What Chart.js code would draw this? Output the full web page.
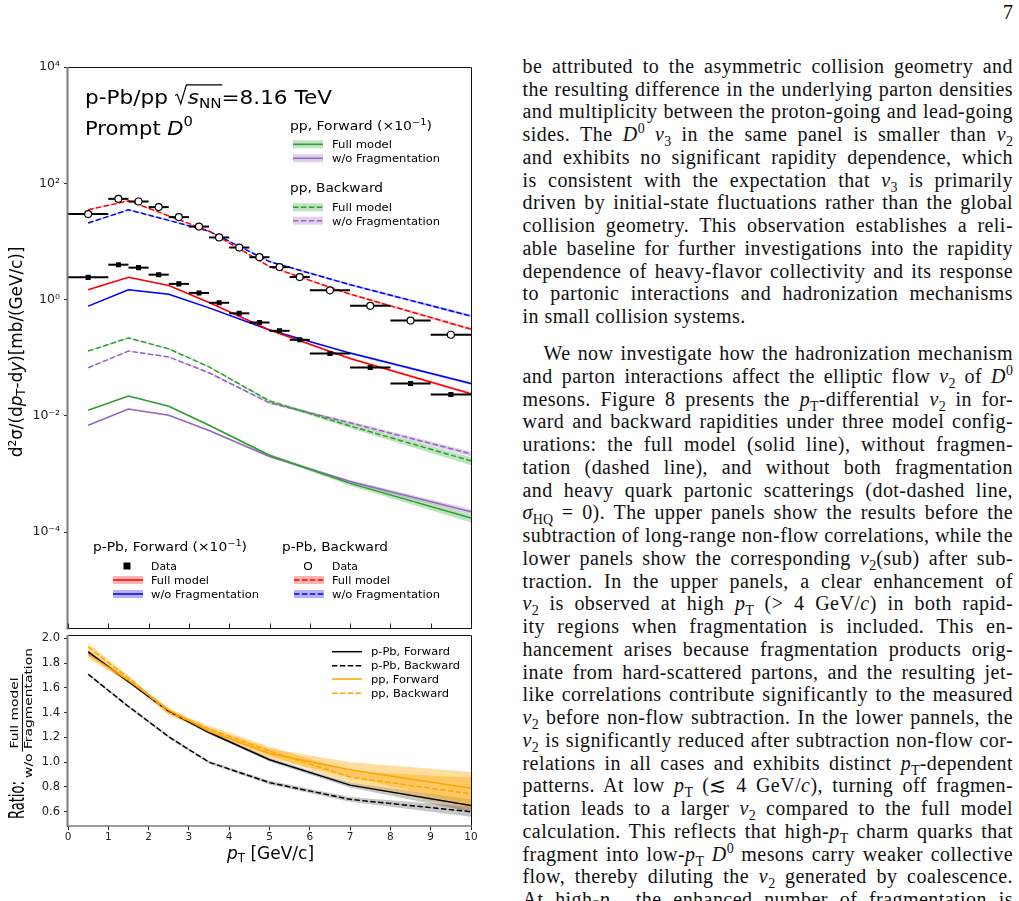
<!DOCTYPE html>
<html lang="en">
<head>
<meta charset="UTF-8">
<title>Prompt D0 cross section, p-Pb/pp 8.16 TeV</title>
<script src="https://cdn.jsdelivr.net/npm/chart.js"></script>
<style>
  html, body { margin: 0; padding: 0; background: #fff; }
  body { position: relative; width: 1019px; height: 901px; overflow: hidden; font-family: "DejaVu Sans", sans-serif; color: #000; }
  canvas { position: absolute; left: 0; }
  #topChart { top: 0; }
  #ratioChart { top: 620px; }
  .rot { position: absolute; white-space: nowrap; line-height: 1.1; transform-origin: center center; }
  .rot sub { font-size: 0.7em; vertical-align: -0.25em; line-height: 0; }
  .frac { display: inline-flex; flex-direction: column; align-items: center; font-size: 10px; line-height: 1.15; }
  .frac span:first-child { border-bottom: 1px solid #000; padding: 0 2px 1px; }
  .xt { position: absolute; font-size: 17px; line-height: 1; white-space: nowrap; }
  .xt sub { font-size: 0.7em; vertical-align: -0.25em; line-height: 0; }
  .ln { position: absolute; font-family: "Liberation Serif", serif; font-size: 20px; letter-spacing: 0.45px; line-height: 22px; height: 22px; white-space: nowrap; color: #111; }
  .ln sub, .ln sup { font-size: 0.7em; line-height: 0; letter-spacing: 0; }
  .pn { position: absolute; right: 6px; top: 1px; font-family: "Liberation Serif", serif; font-size: 20px; line-height: 22px; }
</style>
</head>
<body>
  <div class="pn">7</div>

  <canvas id="topChart" width="500" height="640"></canvas>
  <canvas id="ratioChart" width="500" height="245"></canvas>

  <div id="ylab" class="rot" style="font-size:18px">d²σ/(d<i>p</i><sub>T</sub>-d<i>y</i>)[mb/(GeV/c)]</div>
  <div id="rlab" class="rot" style="font-size:22px">Ratio:</div>
  <div id="rfrac" class="rot"><span class="frac"><span>Full model</span><span>w/o Fragmentation</span></span></div>
  <div id="xt" class="xt"><i>p</i><sub>T</sub> [GeV/c]</div>

  <div id="col"></div>

<script>
  // ---- data ----
  const modelPt = [0.5, 1.5, 2.5, 3.5, 5, 7, 10];

  // p-Pb (forward scaled by 1e-1)
  const pPbFwdFull   = [1.47, 2.41, 1.74, 0.89, 0.30, 0.097, 0.024];
  const pPbFwdNoFrag = [0.77, 1.47, 1.23, 0.72, 0.30, 0.12, 0.036];
  const pPbBwdFull   = [35, 50, 27.5, 15, 3.7, 1.24, 0.31];
  const pPbBwdNoFrag = [20.7, 35, 23, 15, 4.5, 1.8, 0.52];

  // pp (forward scaled by 1e-1)
  const ppFwdFull   = [0.0125, 0.022, 0.0146, 0.0069, 0.0021, 0.00069, 0.000175];
  const ppFwdNoFrag = [0.0069, 0.0131, 0.0102, 0.0056, 0.0020, 0.00074, 0.000225];
  const ppBwdFull   = [0.130, 0.219, 0.142, 0.0695, 0.0180, 0.0067, 0.00168];
  const ppBwdNoFrag = [0.067, 0.130, 0.103, 0.055, 0.0167, 0.0076, 0.00222];

  // relative half-width of the model bands
  const pPbBandErr      = [0.02, 0.02, 0.02, 0.02, 0.03, 0.04, 0.05];
  const ppFullBandErr   = [0.02, 0.02, 0.02, 0.03, 0.05, 0.09, 0.16];
  const ppNoFragBandErr = [0.02, 0.02, 0.02, 0.03, 0.04, 0.06, 0.10];

  // measured D0 points
  const dataPt = [0.5, 1.25, 1.75, 2.25, 2.75, 3.25, 3.75, 4.25, 4.75, 5.25, 5.75, 6.5, 7.5, 8.5, 9.5];
  const binLo  = [0, 1, 1.5, 2, 2.5, 3, 3.5, 4, 4.5, 5, 5.5, 6, 7, 8, 9];
  const binHi  = [1, 1.5, 2, 2.5, 3, 3.5, 4, 4.5, 5, 5.5, 6, 7, 8, 9, 10];
  const pPbFwdData = [2.41, 3.98, 3.54, 2.68, 1.86, 1.30, 0.88, 0.58, 0.403, 0.290, 0.203, 0.118, 0.068, 0.036, 0.0233];
  const pPbBwdData = [29.5, 54, 48.6, 38.9, 26.2, 18.0, 11.7, 7.85, 5.35, 3.62, 2.44, 1.44, 0.78, 0.435, 0.248];

  // ratio panel: full model / w/o fragmentation
  const ratioPPbFwd = [1.89, 1.65, 1.41, 1.24, 1.02, 0.815, 0.65];
  const ratioPPbBwd = [1.71, 1.45, 1.205, 1.00, 0.835, 0.70, 0.60];
  const ratioPPFwd  = [1.87, 1.66, 1.42, 1.25, 1.07, 0.94, 0.79];
  const ratioPPBwd  = [1.93, 1.68, 1.40, 1.27, 1.09, 0.88, 0.745];
  const ratioPPbFwdErr = [0.015, 0.01, 0.01, 0.012, 0.015, 0.02, 0.05];
  const ratioPPbBwdErr = [0.01, 0.01, 0.01, 0.01, 0.015, 0.02, 0.04];
  const ratioPPFwdErr  = [0.03, 0.02, 0.02, 0.025, 0.04, 0.06, 0.13];
  const ratioPPBwdErr  = [0.03, 0.02, 0.02, 0.025, 0.035, 0.05, 0.13];

  const logTicks = [1e-4, 1e-2, 1, 1e2, 1e4];
  const logTickText = ['10⁻⁴', '10⁻²', '10⁰', '10²', '10⁴'];
  const ratioTicks = [0.6, 0.8, 1.0, 1.2, 1.4, 1.6, 1.8, 2.0];

  // ---- colours ----
  const RED = '#ff0000', BLUE = '#0000ff', GREEN = '#2ca02c', PURPLE = '#9467bd', ORANGE = '#ffa500';
  const alpha = (hex, a) => {
    const n = parseInt(hex.slice(1), 16);
    return `rgba(${n >> 16},${(n >> 8) & 255},${n & 255},${a})`;
  };
  const DASH = [5.5, 2.4];

  Chart.defaults.font.family = '"DejaVu Sans"';
  Chart.defaults.color = '#222';

  const pts = (xs, ys) => xs.map((x, i) => ({ x: x, y: ys[i] }));

  function line(ys, color, dashed, xs) {
    return { data: pts(xs || modelPt, ys), borderColor: color, borderWidth: 1.5,
             borderDash: dashed ? DASH : [], pointRadius: 0, fill: false };
  }
  // band as two datasets: upper filled down to the next one
  function band(hi, lo, color, a) {
    return [
      { data: pts(modelPt, hi), borderWidth: 0, pointRadius: 0, fill: '+1', backgroundColor: alpha(color, a) },
      { data: pts(modelPt, lo), borderWidth: 0, pointRadius: 0, fill: false }
    ];
  }
  const relBand = (ys, err, color) =>
    band(ys.map((v, i) => v * (1 + err[i])), ys.map((v, i) => v * (1 - err[i])), color, 0.3);
  const absBand = (ys, err, color, a) =>
    band(ys.map((v, i) => v + err[i]), ys.map((v, i) => v - err[i]), color, a);

  // ---- text drawing on canvas, fitted to a given width ----
  const fnt = (s, st) => (st === 'italic' ? 'italic ' : '') + s + 'px "DejaVu Sans"';
  function drawRuns(ctx, x, y, runs, width) {
    ctx.save();
    let nat = 0;
    runs.forEach(r => {
      if (r.rad) { nat += r.s * 0.6; return; }
      ctx.font = fnt(r.s, r.st); nat += ctx.measureText(r.t).width;
    });
    const k = width ? width / nat : 1;
    ctx.translate(x, y); ctx.scale(k, 1);
    ctx.fillStyle = '#000'; ctx.strokeStyle = '#000';
    ctx.textBaseline = 'alphabetic'; ctx.textAlign = 'left';
    let cx = 0, radStart = null, radEnd = 0, radS = 0;
    runs.forEach(r => {
      if (r.rad) { radStart = cx; radS = r.s; cx += r.s * 0.6; return; }
      ctx.font = fnt(r.s, r.st);
      ctx.fillText(r.t, cx, r.dy || 0);
      cx += ctx.measureText(r.t).width;
      if (r.ov) radEnd = cx;
    });
    if (radStart !== null) {
      const s = radS;
      ctx.lineWidth = 1.1;
      ctx.beginPath();
      ctx.moveTo(radStart + 0.02 * s, -0.40 * s);
      ctx.lineTo(radStart + 0.12 * s, -0.46 * s);
      ctx.lineTo(radStart + 0.28 * s, 0.02 * s);
      ctx.lineTo(radStart + 0.54 * s, -0.93 * s);
      ctx.lineTo(radEnd + 0.04 * s, -0.93 * s);
      ctx.stroke();
    }
    ctx.restore();
  }
  const txt = (t, s) => [{ t: t, s: s }];

  function bandSwatch(ctx, x0, y, color, dashed, withBand) {
    ctx.save();
    if (withBand !== false) {
      ctx.fillStyle = alpha(color, 0.3);
      ctx.fillRect(x0, y - 4, 30, 8);
    }
    ctx.strokeStyle = color; ctx.lineWidth = 1.5;
    ctx.setLineDash(dashed ? DASH : []);
    ctx.beginPath(); ctx.moveTo(x0, y); ctx.lineTo(x0 + 30, y); ctx.stroke();
    ctx.restore();
  }

  // ---- plugins ----
  const framePlugin = {
    id: 'frame',
    afterDatasetsDraw(chart, args, opts) {
      const ctx = chart.ctx, a = chart.chartArea;
      ctx.save();
      ctx.strokeStyle = '#111'; ctx.lineWidth = 1;
      ctx.beginPath();
      ctx.moveTo(a.left, a.top + 0.5); ctx.lineTo(a.right + 0.5, a.top + 0.5);
      ctx.lineTo(a.right + 0.5, a.bottom);
      ctx.stroke();
      ctx.strokeStyle = opts.bottomColor || '#111'; ctx.lineWidth = opts.bottomWidth || 1;
      ctx.beginPath(); ctx.moveTo(a.left, a.bottom); ctx.lineTo(a.right + 1, a.bottom); ctx.stroke();
      ctx.strokeStyle = '#7a7a7a'; ctx.lineWidth = 2;
      ctx.beginPath(); ctx.moveTo(a.left - 0.5, a.top); ctx.lineTo(a.left - 0.5, a.bottom + 1); ctx.stroke();
      if (opts.inTicks) {
        const xs = chart.scales.x;
        ctx.strokeStyle = '#222'; ctx.lineWidth = 1;
        for (let v = 0; v <= 10; v++) {
          const px = Math.round(xs.getPixelForValue(v)) + 0.5;
          ctx.beginPath(); ctx.moveTo(px, a.bottom); ctx.lineTo(px, a.bottom - 5); ctx.stroke();
        }
      }
      ctx.restore();
    }
  };

  const errorBarPlugin = {
    id: 'xerr',
    beforeDatasetDraw(chart, args) {
      const ds = chart.data.datasets[args.index];
      if (!ds.xLo) return;
      const ctx = chart.ctx, xs = chart.scales.x, ys = chart.scales.y;
      ctx.save();
      ctx.strokeStyle = '#000'; ctx.lineWidth = 2;
      ds.data.forEach((p, i) => {
        const py = ys.getPixelForValue(p.y);
        ctx.beginPath();
        ctx.moveTo(xs.getPixelForValue(ds.xLo[i]), py);
        ctx.lineTo(xs.getPixelForValue(ds.xHi[i]), py);
        ctx.stroke();
      });
      ctx.restore();
    }
  };

  const topTextPlugin = {
    id: 'topText',
    afterDraw(chart) {
      const ctx = chart.ctx;
      drawRuns(ctx, 85, 103.5, [
        { t: 'p-Pb/pp ', s: 20 }, { rad: true, s: 20 },
        { t: 's', s: 20, st: 'italic', ov: 1 }, { t: 'NN', s: 14, dy: 4, ov: 1 },
        { t: '=8.16 TeV', s: 20 }], 247);
      drawRuns(ctx, 85, 134.5, [{ t: 'Prompt ', s: 20 }, { t: 'D', s: 20, st: 'italic' }, { t: '0', s: 14, dy: -9 }], 108);

      // pp legend
      drawRuns(ctx, 290, 129.5, [{ t: 'pp, Forward (×10', s: 12 }, { t: '−1', s: 8.5, dy: -5 }, { t: ')', s: 12 }], 142);
      bandSwatch(ctx, 293, 144.3, GREEN, false);
      drawRuns(ctx, 332, 148, txt('Full model', 10.5), 60);
      bandSwatch(ctx, 293, 158.3, PURPLE, false);
      drawRuns(ctx, 332, 162, txt('w/o Fragmentation', 10.5), 108);
      drawRuns(ctx, 290, 192, txt('pp, Backward', 12), 93);
      bandSwatch(ctx, 293, 207.3, GREEN, true);
      drawRuns(ctx, 332, 211, txt('Full model', 10.5), 60);
      bandSwatch(ctx, 293, 220.7, PURPLE, true);
      drawRuns(ctx, 332, 224.5, txt('w/o Fragmentation', 10.5), 108);

      // p-Pb legend
      drawRuns(ctx, 93, 550.5, [{ t: 'p-Pb, Forward (×10', s: 12 }, { t: '−1', s: 8.5, dy: -5 }, { t: ')', s: 12 }], 154);
      drawRuns(ctx, 282, 550.5, txt('p-Pb, Backward', 12), 106);
      ctx.save();
      ctx.fillStyle = '#000';
      ctx.fillRect(123.5, 562.5, 7, 7);
      ctx.lineWidth = 1.2; ctx.strokeStyle = '#000'; ctx.fillStyle = '#fff';
      ctx.beginPath(); ctx.arc(308, 566, 3.5, 0, Math.PI * 2); ctx.fill(); ctx.stroke();
      ctx.restore();
      drawRuns(ctx, 151, 569.7, txt('Data', 10.5), 26);
      drawRuns(ctx, 332, 569.7, txt('Data', 10.5), 26);
      bandSwatch(ctx, 113, 580, RED, false);
      drawRuns(ctx, 151, 583.7, txt('Full model', 10.5), 58);
      bandSwatch(ctx, 113, 594, BLUE, false);
      drawRuns(ctx, 151, 597.7, txt('w/o Fragmentation', 10.5), 108);
      bandSwatch(ctx, 294, 580, RED, true);
      drawRuns(ctx, 332, 583.7, txt('Full model', 10.5), 58);
      bandSwatch(ctx, 294, 594, BLUE, true);
      drawRuns(ctx, 332, 597.7, txt('w/o Fragmentation', 10.5), 108);
    }
  };

  const ratioLegendPlugin = {
    id: 'ratioLegend',
    afterDraw(chart) {
      const ctx = chart.ctx, top = chart.chartArea.top;
      const rows = [['p-Pb, Forward', '#000', false, 79], ['p-Pb, Backward', '#000', true, 89],
                    ['pp, Forward', ORANGE, false, 68], ['pp, Backward', ORANGE, true, 78]];
      const dy = [16.7, 30.7, 44, 58.3];
      rows.forEach((r, i) => {
        const y = top + dy[i];
        bandSwatch(ctx, 332, y, r[1], r[2], false);
        drawRuns(ctx, 371, y + 3.6, txt(r[0], 10), r[3]);
      });
    }
  };

  // ---- top panel ----
  const dataFwd = { data: pts(dataPt, pPbFwdData), showLine: false, pointStyle: 'rect', pointRadius: 3.6,
                    backgroundColor: '#000', borderColor: '#000', borderWidth: 0, xLo: binLo, xHi: binHi };
  const dataBwd = { data: pts(dataPt, pPbBwdData), showLine: false, pointStyle: 'circle', pointRadius: 3.5,
                    backgroundColor: '#fff', borderColor: '#000', borderWidth: 1.2, xLo: binLo, xHi: binHi };

  const topSets = [
    dataFwd, dataBwd,
    line(pPbFwdFull, RED, false), line(pPbFwdNoFrag, BLUE, false),
    line(pPbBwdFull, RED, true), line(pPbBwdNoFrag, BLUE, true),
    line(ppFwdFull, GREEN, false), line(ppFwdNoFrag, PURPLE, false),
    line(ppBwdFull, GREEN, true), line(ppBwdNoFrag, PURPLE, true),
    ...relBand(pPbFwdFull, pPbBandErr, RED), ...relBand(pPbFwdNoFrag, pPbBandErr, BLUE),
    ...relBand(pPbBwdFull, pPbBandErr, RED), ...relBand(pPbBwdNoFrag, pPbBandErr, BLUE),
    ...relBand(ppFwdFull, ppFullBandErr, GREEN), ...relBand(ppFwdNoFrag, ppNoFragBandErr, PURPLE),
    ...relBand(ppBwdFull, ppFullBandErr, GREEN), ...relBand(ppBwdNoFrag, ppNoFragBandErr, PURPLE)
  ];

  new Chart(document.getElementById('topChart'), {
    type: 'line',
    data: { datasets: topSets },
    options: {
      responsive: false, animation: false, events: [],
      layout: { padding: { top: 67, right: 29, left: 0, bottom: 0 } },
      plugins: { legend: { display: false }, tooltip: { enabled: false }, frame: { inTicks: true } },
      scales: {
        x: { type: 'linear', min: 0, max: 10, ticks: { display: false }, grid: { display: false },
             border: { display: false }, afterFit: s => { s.height = 6; } },
        y: { type: 'logarithmic', min: 2.2e-6, max: 1e4,
             afterBuildTicks: s => { s.ticks = logTicks.map(v => ({ value: v })); },
             ticks: { callback: v => logTickText[logTicks.indexOf(v)], font: { size: 12.5 }, color: '#222', padding: 4 },
             grid: { drawOnChartArea: false, tickLength: 4, color: '#222' },
             border: { display: false }, afterFit: s => { s.width = 68; } }
      }
    },
    plugins: [errorBarPlugin, framePlugin, topTextPlugin]
  });

  // ---- ratio panel ----
  const ratioSets = [
    line(ratioPPFwd, ORANGE, false), line(ratioPPBwd, ORANGE, true),
    line(ratioPPbFwd, '#000', false), line(ratioPPbBwd, '#000', true),
    ...absBand(ratioPPFwd, ratioPPFwdErr, ORANGE, 0.38), ...absBand(ratioPPBwd, ratioPPBwdErr, ORANGE, 0.38),
    ...absBand(ratioPPbFwd, ratioPPbFwdErr, '#000000', 0.22), ...absBand(ratioPPbBwd, ratioPPbBwdErr, '#000000', 0.22)
  ];

  new Chart(document.getElementById('ratioChart'), {
    type: 'line',
    data: { datasets: ratioSets },
    options: {
      responsive: false, animation: false, events: [],
      layout: { padding: { top: 15, right: 29, left: 0, bottom: 0 } },
      plugins: { legend: { display: false }, tooltip: { enabled: false },
                 frame: { bottomColor: '#7a7a7a', bottomWidth: 1.5 } },
      scales: {
        x: { type: 'linear', min: 0, max: 10,
             ticks: { stepSize: 1, font: { size: 10.5 }, color: '#222', padding: 1, maxRotation: 0 },
             grid: { drawOnChartArea: false, tickLength: 4, color: '#222' },
             border: { display: false }, afterFit: s => { s.height = 39; } },
        y: { type: 'linear', min: 0.485, max: 2.027,
             afterBuildTicks: s => { s.ticks = ratioTicks.map(v => ({ value: v })); },
             ticks: { callback: v => v.toFixed(1), font: { size: 11.5 }, color: '#222', padding: 4 },
             grid: { drawOnChartArea: false, tickLength: 4, color: '#222' },
             border: { display: false }, afterFit: s => { s.width = 68; } }
      }
    },
    plugins: [framePlugin, ratioLegendPlugin]
  });

  // ---- axis titles ----
  function fitRot(el, cx, cy, len) {
    const w = el.offsetWidth, h = el.offsetHeight;
    el.style.left = (cx - w / 2) + 'px';
    el.style.top = (cy - h / 2) + 'px';
    el.style.transform = `rotate(-90deg) scaleX(${len / w})`;
  }
  fitRot(document.getElementById('ylab'), 16, 352, 211);
  fitRot(document.getElementById('rlab'), 16.5, 800, 38);
  fitRot(document.getElementById('rfrac'), 18.5, 713, 130);
  const xt = document.getElementById('xt');
  xt.style.left = (270.5 - xt.offsetWidth / 2) + 'px';
  xt.style.top = '844.5px';

  // ---- text column ----
  const paraLines = [
    'be attributed to the asymmetric collision geometry and',
    'the resulting difference in the underlying parton densities',
    'and multiplicity between the proton-going and lead-going',
    'sides. The <i>D</i><sup>0</sup> <i>v</i><sub>3</sub> in the same panel is smaller than <i>v</i><sub>2</sub>',
    'and exhibits no significant rapidity dependence, which',
    'is consistent with the expectation that <i>v</i><sub>3</sub> is primarily',
    'driven by initial-state fluctuations rather than the global',
    'collision geometry. This observation establishes a reli-',
    'able baseline for further investigations into the rapidity',
    'dependence of heavy-flavor collectivity and its response',
    'to partonic interactions and hadronization mechanisms',
    'in small collision systems.',
    'We now investigate how the hadronization mechanism',
    'and parton interactions affect the elliptic flow <i>v</i><sub>2</sub> of <i>D</i><sup>0</sup>',
    'mesons. Figure 8 presents the <i>p</i><sub>T</sub>-differential <i>v</i><sub>2</sub> in for-',
    'ward and backward rapidities under three model config-',
    'urations: the full model (solid line), without fragmen-',
    'tation (dashed line), and without both fragmentation',
    'and heavy quark partonic scatterings (dot-dashed line,',
    '<i>σ</i><sub>HQ</sub> = 0). The upper panels show the results before the',
    'subtraction of long-range non-flow correlations, while the',
    'lower panels show the corresponding <i>v</i><sub>2</sub>(sub) after sub-',
    'traction. In the upper panels, a clear enhancement of',
    '<i>v</i><sub>2</sub> is observed at high <i>p</i><sub>T</sub> (&gt; 4 GeV/<i>c</i>) in both rapid-',
    'ity regions when fragmentation is included. This en-',
    'hancement arises because fragmentation products orig-',
    'inate from hard-scattered partons, and the resulting jet-',
    'like correlations contribute significantly to the measured',
    '<i>v</i><sub>2</sub> before non-flow subtraction. In the lower pannels, the',
    '<i>v</i><sub>2</sub> is significantly reduced after subtraction non-flow cor-',
    'relations in all cases and exhibits distinct <i>p</i><sub>T</sub>-dependent',
    'patterns. At low <i>p</i><sub>T</sub> (≲ 4 GeV/<i>c</i>), turning off fragmen-',
    'tation leads to a larger <i>v</i><sub>2</sub> compared to the full model',
    'calculation. This reflects that high-<i>p</i><sub>T</sub> charm quarks that',
    'fragment into low-<i>p</i><sub>T</sub> <i>D</i><sup>0</sup> mesons carry weaker collective',
    'flow, thereby diluting the <i>v</i><sub>2</sub> generated by coalescence.',
    'At high-<i>p</i><sub>T</sub>, the enhanced number of fragmentation is'
  ];
  const colLeft = 522.5, colWidth = 490.5, lineGap = 22.75, baseOff = 17.8;
  const col = document.getElementById('col');
  paraLines.forEach((h, i) => {
    const d = document.createElement('div');
    d.className = 'ln';
    const span = document.createElement('span');
    span.innerHTML = h;
    d.appendChild(span);
    const base = i < 12 ? 72.7 + i * lineGap : 360 + (i - 12) * lineGap;
    const indent = i === 12 ? 21 : 0;
    d.style.top = (base - baseOff) + 'px';
    d.style.left = (colLeft + indent) + 'px';
    col.appendChild(d);
    if (i !== 11) {
      const w = span.getBoundingClientRect().width;
      const n = (span.textContent.match(/ /g) || []).length;
      if (n) d.style.wordSpacing = ((colWidth - indent - w) / n) + 'px';
    }
  });
</script>
</body>
</html>
